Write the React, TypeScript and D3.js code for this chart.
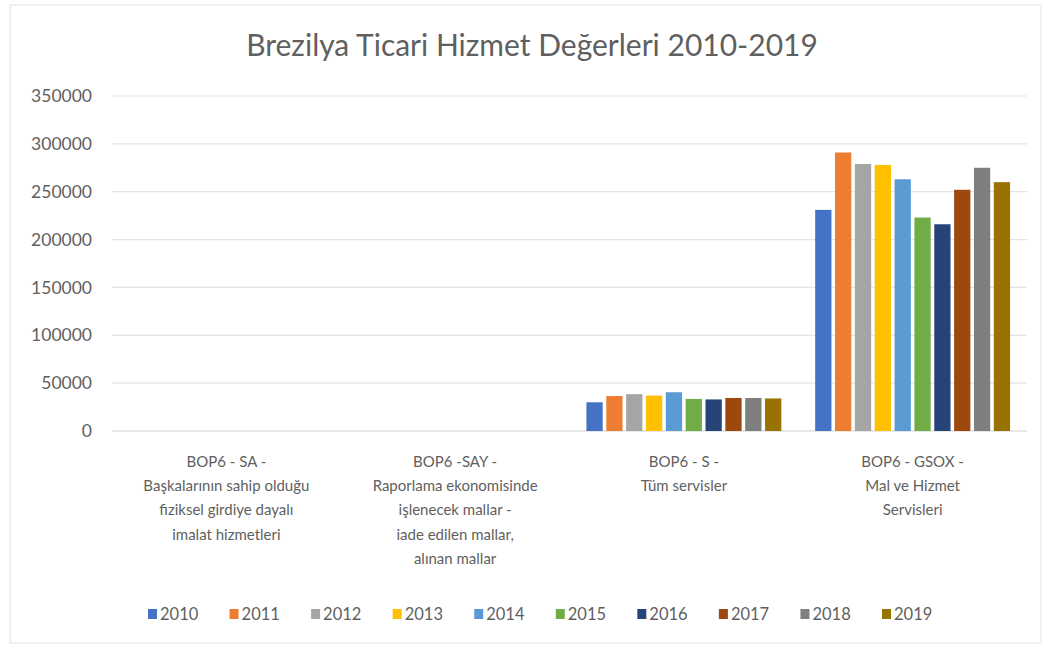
import React from 'react';
import * as d3 from 'd3';

// chart values
const categories = ['SA', 'SAY', 'S', 'GSOX'];
const categoryLabels = [
  ['BOP6 - SA -', 'Başkalarının sahip olduğu', 'fiziksel girdiye dayalı', 'imalat hizmetleri'],
  ['BOP6 -SAY -', 'Raporlama ekonomisinde', 'işlenecek mallar -', 'iade edilen mallar,', 'alınan mallar'],
  ['BOP6 - S -', 'Tüm servisler'],
  ['BOP6 - GSOX -', 'Mal ve Hizmet', 'Servisleri'],
];
const years = ['2010', '2011', '2012', '2013', '2014', '2015', '2016', '2017', '2018', '2019'];
const saValues = [0, 0, 0, 0, 0, 0, 0, 0, 0, 0];
const sayValues = [0, 0, 0, 0, 0, 0, 0, 0, 0, 0];
const sValues = [30000, 36500, 38500, 37000, 40500, 33500, 33000, 34500, 34500, 34000];
const gsoxValues = [231000, 291000, 279000, 278000, 263000, 223000, 216000, 252000, 275000, 260000];
const yTicks = [0, 50000, 100000, 150000, 200000, 250000, 300000, 350000];
const colors = ['#4472C4', '#ED7D31', '#A5A5A5', '#FFC000', '#5B9BD5', '#70AD47', '#264478', '#9E480E', '#7f7f7f', '#997300'];

const allValues = [saValues, sayValues, sValues, gsoxValues];

export default function App() {
  const width = 1053;
  const height = 648;
  const font = 'Lato, "Open Sans", sans-serif';
  const textColor = '#5f5f5f';

  const x0 = d3.scaleBand()
    .domain(categories)
    .range([112, 1027])
    .paddingInner(0.148)
    .paddingOuter(0.074);

  const x1 = d3.scaleBand()
    .domain(years)
    .range([0, x0.bandwidth()])
    .paddingInner(0.18);

  const y = d3.scaleLinear()
    .domain([0, 350000])
    .range([431, 96]);

  const color = d3.scaleOrdinal<string, string>().domain(years).range(colors);

  const legendX = d3.scalePoint().domain(years).range([148, 882]);

  return (
    <svg width={width} height={height} style={{ position: 'absolute', left: 0, top: 0, background: '#fff' }}>
      <rect x={10} y={5} width={1031} height={638} fill="#fff" stroke="#ececec" strokeWidth={1.5} />
      <text x={532} y={56} textAnchor="middle" fontFamily={font} fontSize={30} fill={textColor}>
        Brezilya Ticari Hizmet Değerleri 2010-2019
      </text>

      {yTicks.map(t => (
        <g key={t}>
          <line x1={112} x2={1027} y1={y(t)} y2={y(t)} stroke={t === 0 ? '#d0d0d0' : '#e4e4e4'} strokeWidth={1.2} />
          <text x={92} y={y(t)} dy="0.35em" textAnchor="end" fontFamily={font} fontSize={17.5} fill={textColor}>
            {t}
          </text>
        </g>
      ))}

      {categories.map((c, ci) => (
        <g key={c} transform={`translate(${x0(c)},0)`}>
          {allValues[ci].map((v, yi) => (
            <rect
              key={years[yi]}
              x={x1(years[yi])}
              y={y(v)}
              width={x1.bandwidth()}
              height={y(0) - y(v)}
              fill={color(years[yi])}
            />
          ))}
          {categoryLabels[ci].map((line, li) => (
            <text
              key={li}
              x={x0.bandwidth() / 2}
              y={467 + li * 24.2}
              textAnchor="middle"
              fontFamily={font}
              fontSize={15}
              fill={textColor}
            >
              {line}
            </text>
          ))}
        </g>
      ))}

      {years.map(yr => (
        <g key={yr} transform={`translate(${legendX(yr)},614)`}>
          <rect x={0} y={-5} width={9} height={10} fill={color(yr)} />
          <text x={12} y={0} dy="0.35em" fontFamily={font} fontSize={16.5} fill={textColor}>
            {yr}
          </text>
        </g>
      ))}
    </svg>
  );
}
